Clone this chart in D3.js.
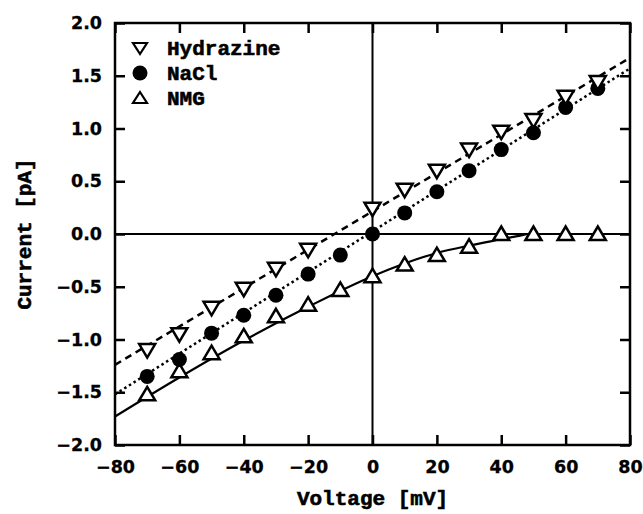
<!DOCTYPE html>
<html>
<head>
<meta charset="utf-8">
<script src="https://cdn.jsdelivr.net/npm/d3@7"></script>
<style>
  body { margin: 0; background: #fff; }
  text { font-family: "Liberation Mono", "DejaVu Sans Mono", monospace; font-weight: bold; fill: #000; stroke: #000; stroke-width: 0.6px; }
  .tick text { font-family: "DejaVu Sans", sans-serif; stroke-width: 0.3px; }
</style>
</head>
<body>
<svg id="chart" width="643" height="514"></svg>
<script>
// data
var hydV = [-70, -60, -50, -40, -30, -20, 0, 10, 20, 30, 40, 50, 60, 70]
var hydI = [-1.10, -0.95, -0.70, -0.52, -0.33, -0.15, 0.24, 0.42, 0.60, 0.80, 0.97, 1.08, 1.30, 1.44]
var naclV = [-70, -60, -50, -40, -30, -20, -10, 0, 10, 20, 30, 40, 50, 60, 70]
var naclI = [-1.35, -1.19, -0.94, -0.77, -0.58, -0.38, -0.20, 0.00, 0.20, 0.40, 0.60, 0.80, 0.96, 1.20, 1.38]
var nmgV = [-70, -60, -50, -40, -30, -20, -10, 0, 10, 20, 30, 40, 50, 60, 70]
var nmgI = [-1.52, -1.30, -1.13, -0.97, -0.78, -0.67, -0.53, -0.40, -0.29, -0.20, -0.12, 0.00, 0.00, 0.00, 0.00]

// fitted lines
var hydFitV = [-80, 80]
var hydFitI = [-1.24, 1.67]
var naclFitV = [-80, 80]
var naclFitI = [-1.52, 1.57]
var nmgFitV = [-80, -60, -40, -20, 0, 20, 30, 40, 45, 49, 80]
var nmgFitI = [-1.73, -1.36, -1.01, -0.69, -0.40, -0.18, -0.11, -0.05, -0.02, 0.00, 0.00]

var xTicks = [-80, -60, -40, -20, 0, 20, 40, 60, 80]
var yTicks = [-2.0, -1.5, -1.0, -0.5, 0.0, 0.5, 1.0, 1.5, 2.0]

var legendNames = ["Hydrazine", "NaCl", "NMG"]

var svg = d3.select("#chart")
var pLeft = 115, pRight = 630, pTop = 23, pBottom = 445
var tickLen = 10

var x = d3.scaleLinear().domain([-80, 80]).range([pLeft, pRight])
var y = d3.scaleLinear().domain([-2, 2]).range([pBottom, pTop])

function zip(a, b) { return a.map(function(v, i) { return [v, b[i]] }) }

// frame
svg.append("rect")
    .attr("x", pLeft).attr("y", pTop)
    .attr("width", pRight - pLeft).attr("height", pBottom - pTop)
    .style("fill", "none").style("stroke", "#000").style("stroke-width", 2.5)

// zero lines
svg.append("line")
    .attr("x1", pLeft).attr("x2", pRight).attr("y1", y(0)).attr("y2", y(0))
    .style("stroke", "#000").style("stroke-width", 2)
svg.append("line")
    .attr("x1", x(0)).attr("x2", x(0)).attr("y1", pTop).attr("y2", pBottom)
    .style("stroke", "#000").style("stroke-width", 2)

// inward ticks on all four sides
var axB = svg.append("g").attr("transform", "translate(0," + pBottom + ")")
    .call(d3.axisBottom(x).tickValues(xTicks).tickSize(-tickLen).tickPadding(16)
        .tickFormat(function(d) { return d3.format("d")(d).replace("-", "\u2212") }))
var axT = svg.append("g").attr("transform", "translate(0," + pTop + ")")
    .call(d3.axisTop(x).tickValues(xTicks).tickSize(-tickLen).tickFormat(""))
var axL = svg.append("g").attr("transform", "translate(" + pLeft + ",0)")
    .call(d3.axisLeft(y).tickValues(yTicks).tickSize(-tickLen).tickPadding(13)
        .tickFormat(function(d) { return d3.format(".1f")(d).replace("-", "\u2212") }))
var axR = svg.append("g").attr("transform", "translate(" + pRight + ",0)")
    .call(d3.axisRight(y).tickValues(yTicks).tickSize(-tickLen).tickFormat(""))

;[axB, axT, axL, axR].forEach(function(g) {
    g.select(".domain").remove()
    g.selectAll(".tick line").style("stroke", "#000").style("stroke-width", 2.5)
    g.attr("font-family", null).attr("font-size", null)
    g.selectAll("text").style("font-size", "17.5px").attr("fill", null)
})

// axis titles
svg.append("text")
    .attr("x", x(0)).attr("y", 505)
    .attr("text-anchor", "middle")
    .style("font-size", "21px")
    .text("Voltage [mV]")
svg.append("text")
    .attr("transform", "translate(31," + y(0) + ") rotate(-90)")
    .attr("text-anchor", "middle")
    .style("font-size", "21px")
    .text("Current [pA]")

// fit lines
var line = d3.line().x(function(d) { return x(d[0]) }).y(function(d) { return y(d[1]) })
var curve = d3.line().curve(d3.curveMonotoneX).x(function(d) { return x(d[0]) }).y(function(d) { return y(d[1]) })

svg.append("path").datum(zip(hydFitV, hydFitI))
    .attr("d", line)
    .style("fill", "none").style("stroke", "#000").style("stroke-width", 2.5)
    .style("stroke-dasharray", "7,5")
svg.append("path").datum(zip(naclFitV, naclFitI))
    .attr("d", line)
    .style("fill", "none").style("stroke", "#000").style("stroke-width", 2.5)
    .style("stroke-dasharray", "2.5,3")
svg.append("path").datum(zip(nmgFitV, nmgFitI))
    .attr("d", curve)
    .style("fill", "none").style("stroke", "#000").style("stroke-width", 2.2)

// markers
var triUp = "M0,-7.5L8,6L-8,6Z"
var triDown = "M0,7.5L8,-6L-8,-6Z"

function triangles(data, shape) {
    svg.append("g").selectAll("path")
        .data(data)
        .enter().append("path")
        .attr("d", shape)
        .attr("transform", function(d) { return "translate(" + x(d[0]) + "," + y(d[1]) + ")" })
        .style("fill", "#fff").style("stroke", "#000").style("stroke-width", 2.5)
}

triangles(zip(nmgV, nmgI), triUp)
svg.append("g").selectAll("circle")
    .data(zip(naclV, naclI))
    .enter().append("circle")
    .attr("cx", function(d) { return x(d[0]) })
    .attr("cy", function(d) { return y(d[1]) })
    .attr("r", 7.5)
    .style("fill", "#000")
triangles(zip(hydV, hydI), triDown)

// legend
var legend = svg.append("g").attr("transform", "translate(140,48)")
legendNames.forEach(function(name, i) {
    var g = legend.append("g").attr("transform", "translate(0," + (i * 25) + ")")
    if (i == 1) {
        g.append("circle").attr("r", 7.5).style("fill", "#000")
    } else {
        g.append("path")
            .attr("d", i == 0 ? "M0,6L7,-5L-7,-5Z" : "M0,-6L7,5L-7,5Z")
            .style("fill", "#fff").style("stroke", "#000").style("stroke-width", 2.2)
    }
    g.append("text")
        .attr("x", 27).attr("y", 7)
        .style("font-size", "21px")
        .text(name)
})
</script>
</body>
</html>
